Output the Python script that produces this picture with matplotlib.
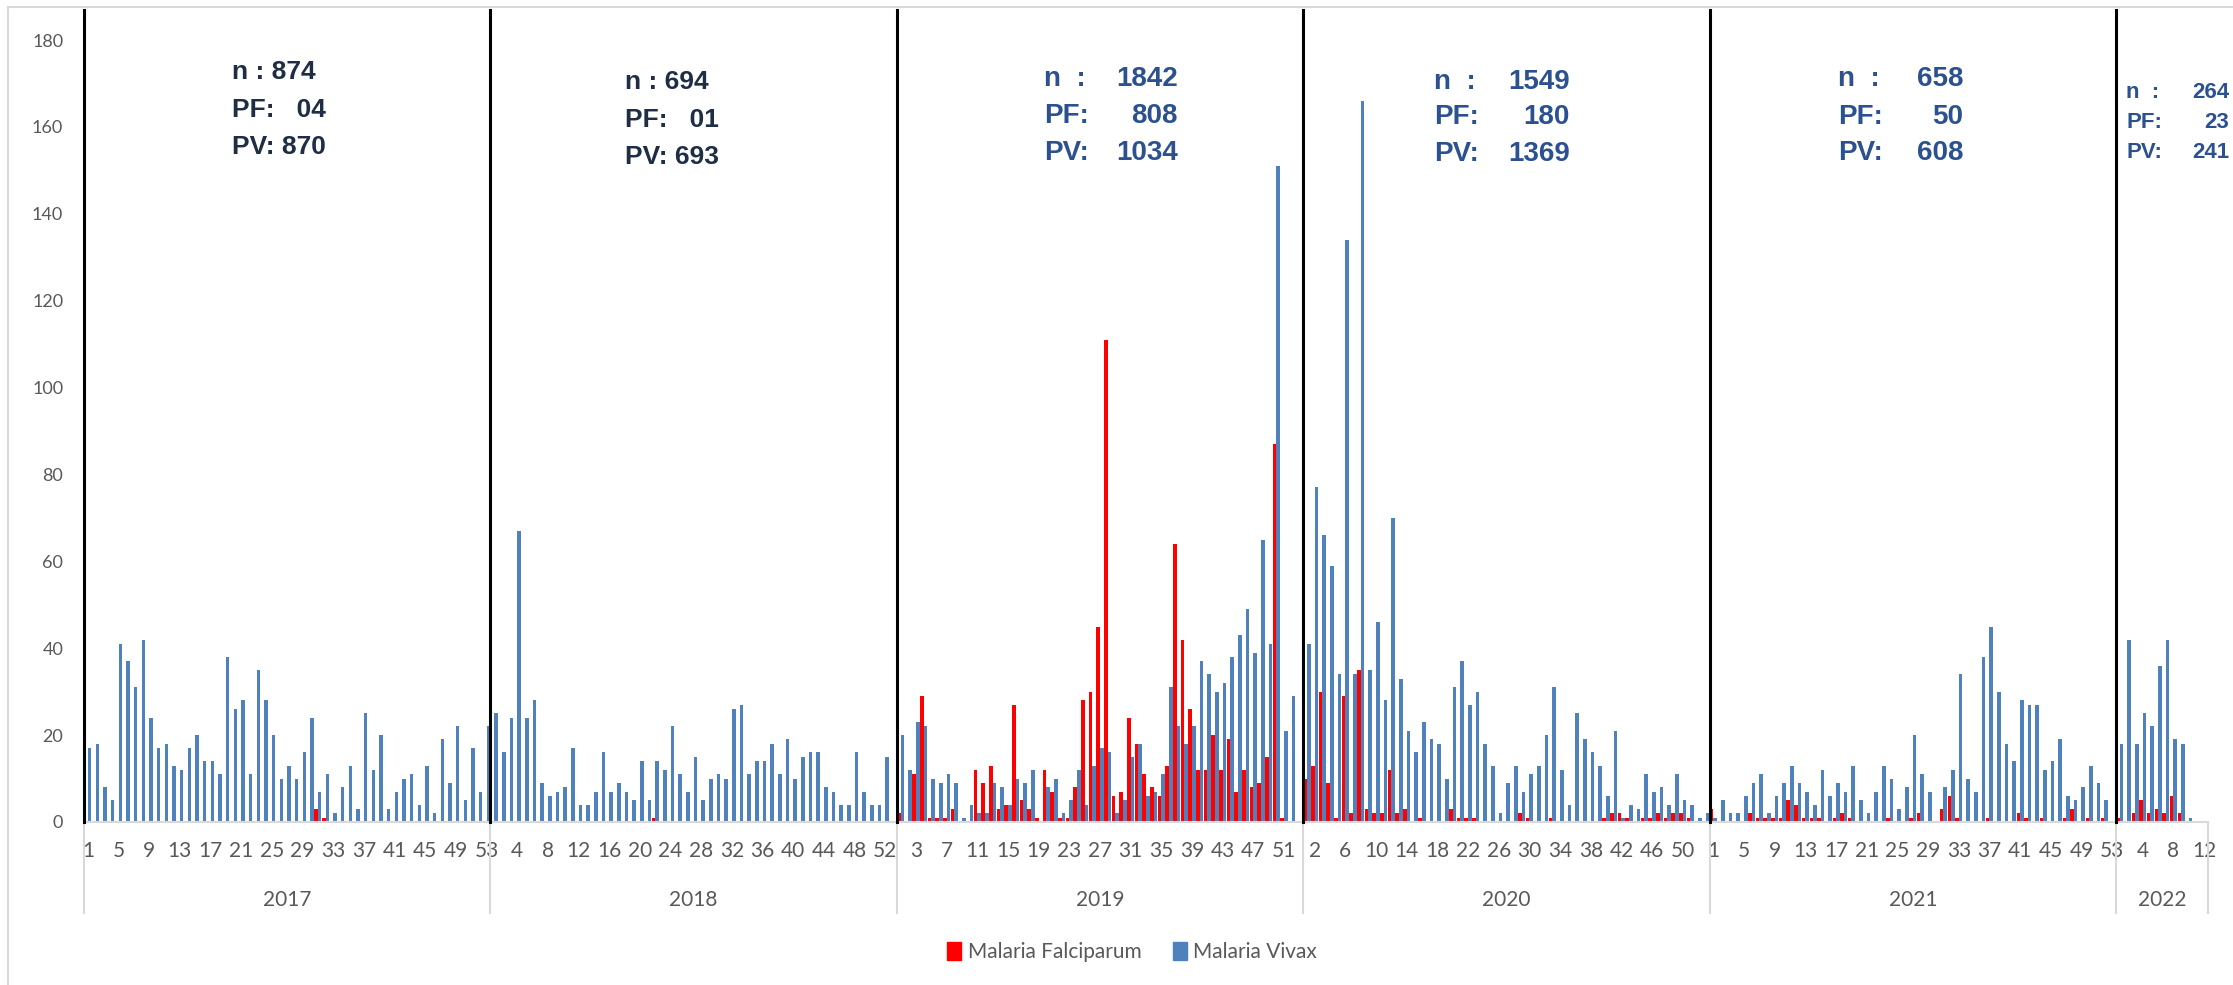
import numpy as np
import matplotlib
matplotlib.use("Agg")
import matplotlib.pyplot as plt
import matplotlib.transforms as mtransforms
from matplotlib.patches import Patch
from matplotlib.lines import Line2D

# weekly cases, one list per year (index 0 = week 1)
years = ["2017", "2018", "2019", "2020", "2021", "2022"]

falci_2017 = [0] * 30 + [3, 1] + [0] * 21
vivax_2017 = [17, 18, 8, 5, 41, 37, 31, 42, 24, 17, 18, 13, 12, 17, 20, 14, 14, 11, 38, 26,
              28, 11, 35, 28, 20, 10, 13, 10, 16, 24, 7, 11, 2, 8, 13, 3, 25, 12, 20, 3,
              7, 10, 11, 4, 13, 2, 19, 9, 22, 5, 17, 7, 22]

falci_2018 = [0] * 21 + [1] + [0] * 31
vivax_2018 = [25, 16, 24, 67, 24, 28, 9, 6, 7, 8, 17, 4, 4, 7, 16, 7, 9, 7, 5, 14,
              5, 14, 12, 22, 11, 7, 15, 5, 10, 11, 10, 26, 27, 11, 14, 14, 18, 11, 19, 10,
              15, 16, 16, 8, 7, 4, 4, 16, 7, 4, 4, 15, 0]

falci_2019 = [2, 0, 11, 29, 1, 1, 1, 3, 0, 0, 12, 9, 13, 3, 4, 27, 5, 3, 1, 12,
              7, 1, 1, 8, 28, 30, 45, 111, 6, 7, 24, 18, 11, 8, 6, 13, 64, 42, 26, 12,
              12, 20, 12, 19, 7, 12, 8, 9, 15, 87, 1, 0, 0]
vivax_2019 = [20, 12, 23, 22, 10, 9, 11, 9, 1, 4, 2, 2, 9, 8, 4, 10, 9, 12, 0, 8,
              10, 2, 5, 12, 4, 13, 17, 16, 2, 5, 15, 18, 6, 7, 11, 31, 22, 18, 22, 37,
              34, 30, 32, 38, 43, 49, 39, 65, 41, 151, 21, 29, 0]

falci_2020 = [10, 13, 30, 9, 1, 29, 2, 35, 3, 2, 2, 12, 2, 3, 0, 1, 0, 0, 0, 3,
              1, 1, 1, 0, 0, 0, 0, 0, 2, 1, 0, 0, 1, 0, 0, 0, 0, 0, 0, 1,
              2, 2, 1, 0, 1, 1, 2, 1, 2, 2, 1, 0, 0]
vivax_2020 = [41, 77, 66, 59, 34, 134, 34, 166, 35, 46, 28, 70, 33, 21, 16, 23, 19, 18, 10, 31,
              37, 27, 30, 18, 13, 2, 9, 13, 7, 11, 13, 20, 31, 12, 4, 25, 19, 16, 13, 6,
              21, 1, 4, 3, 11, 7, 8, 4, 11, 5, 4, 1, 2]

falci_2021 = [3, 0, 0, 0, 0, 2, 1, 1, 1, 1, 5, 4, 1, 1, 1, 0, 1, 2, 1, 0,
              0, 0, 0, 1, 0, 0, 1, 2, 0, 0, 3, 6, 1, 0, 0, 0, 1, 0, 0, 0,
              2, 1, 0, 1, 0, 0, 1, 3, 0, 1, 0, 1, 0]
vivax_2021 = [1, 5, 2, 2, 6, 9, 11, 2, 6, 9, 13, 9, 7, 4, 12, 6, 9, 7, 13, 5,
              2, 7, 13, 10, 3, 8, 20, 11, 7, 0, 8, 12, 34, 10, 7, 38, 45, 30, 18, 14,
              28, 27, 27, 12, 14, 19, 6, 5, 8, 13, 9, 5, 0]

falci_2022 = [1, 0, 2, 5, 2, 3, 2, 6, 2, 0, 0, 0]
vivax_2022 = [18, 42, 18, 25, 22, 36, 42, 19, 18, 1, 0, 0]

# yearly totals written on the chart
ann_n = ["874", "694", "1842", "1549", "658", "264"]
ann_pf = ["04", "01", "808", "180", "50", "23"]
ann_pv = ["870", "693", "1034", "1369", "608", "241"]

falci_years = [falci_2017, falci_2018, falci_2019, falci_2020, falci_2021, falci_2022]
vivax_years = [vivax_2017, vivax_2018, vivax_2019, vivax_2020, vivax_2021, vivax_2022]

falci = np.concatenate(falci_years)
vivax = np.concatenate(vivax_years)
weeks = np.concatenate([np.arange(1, len(f) + 1) for f in falci_years])
x = np.arange(len(falci))

W, H = 2233, 985
fig = plt.figure(figsize=(W / 100, H / 100), dpi=100)


def fx(px):
    return px / W


def fy(py):
    return 1 - py / H


GREY = "#595959"
LIGHT = "#D9D9D9"
TICKFONT = "Lato"

ax = fig.add_axes([fx(84), fy(822), fx(2208) - fx(84), fy(10) - fy(822)])
ax.bar(x - 0.235, falci, width=0.47, color="#FF0000", linewidth=0, zorder=2)
ax.bar(x + 0.235, vivax, width=0.47, color="#4F81BD", linewidth=0, zorder=2)

ax.set_xlim(-0.5, len(x) - 0.5)
ax.set_ylim(0, (822 - 10) / ((822 - 40) / 180))
ax.set_yticks(range(0, 181, 20))
ax.tick_params(axis="y", length=0, pad=15, labelsize=13, labelcolor=GREY)
ax.set_xticks(x[::4])
ax.set_xticklabels([str(w) for w in weeks[::4]])
ax.tick_params(axis="x", length=0, pad=14, labelsize=15, labelcolor=GREY)
for lab in ax.get_xticklabels() + ax.get_yticklabels():
    lab.set_family(TICKFONT)

for s in ["top", "right", "left"]:
    ax.spines[s].set_visible(False)
ax.spines["bottom"].set_color(LIGHT)
ax.spines["bottom"].set_linewidth(1.5)

# year groups
blend = mtransforms.blended_transform_factory(ax.transData, ax.transAxes)
bounds = np.cumsum([0] + [len(f) for f in falci_years]) - 0.5
for b in bounds:
    ax.plot([b, b], [0, -0.112], transform=blend, color=LIGHT, lw=1.5, clip_on=False)
for b in bounds[:-1]:
    ax.plot([b, b], [0, 1], transform=blend, color="black", lw=2.2, clip_on=False, zorder=3)
for i, yr in enumerate(years):
    ax.text((bounds[i] + bounds[i + 1]) / 2, -0.096, yr, transform=blend, ha="center",
            va="center", fontsize=15, color=GREY, family=TICKFONT)

# chart frame
fig.add_artist(Line2D([fx(8), fx(8)], [0, fy(7)], color=LIGHT, lw=1.5))
fig.add_artist(Line2D([fx(8), 1], [fy(7), fy(7)], color=LIGHT, lw=1.5))

# annotations
navy = "#1F2D45"
blue = "#2B5190"
old_pos = [(232, [72, 110, 147]), (625, [82, 120, 157])]
for i, (lx, ys) in enumerate(old_pos):
    lines = [f"n : {ann_n[i]}", f"PF:   {ann_pf[i]}", f"PV: {ann_pv[i]}"]
    for txt, yy in zip(lines, ys):
        fig.text(fx(lx), fy(yy), txt, ha="left", va="center", fontsize=19,
                 fontweight="bold", color=navy, family="Liberation Sans")

new_pos = [(1044, 1178, [79, 116, 153], 20), (1434, 1570, [82, 117, 154], 20),
           (1838, 1963, [79, 117, 153], 20), (2126, 2229, [92, 122, 152], 16)]
for j, (lx, rx, ys, fs) in enumerate(new_pos):
    i = j + 2
    for lab, num, yy in zip(["n  :", "PF:", "PV:"], [ann_n[i], ann_pf[i], ann_pv[i]], ys):
        fig.text(fx(lx), fy(yy), lab, ha="left", va="center", fontsize=fs,
                 fontweight="bold", color=blue, family="Liberation Sans")
        fig.text(fx(rx), fy(yy), num, ha="right", va="center", fontsize=fs,
                 fontweight="bold", color=blue, family="Liberation Sans")

handles = [Patch(color="#FF0000", label="Malaria Falciparum"),
           Patch(color="#4F81BD", label="Malaria Vivax")]
fig.legend(handles=handles, loc="center", bbox_to_anchor=(fx(1132), fy(952)), ncol=2,
           frameon=False, prop={"family": TICKFONT, "size": 15}, labelcolor=GREY,
           handlelength=0.7, handleheight=1.0, handletextpad=0.3, columnspacing=1.5)

fig.savefig("out.png", dpi=100)
